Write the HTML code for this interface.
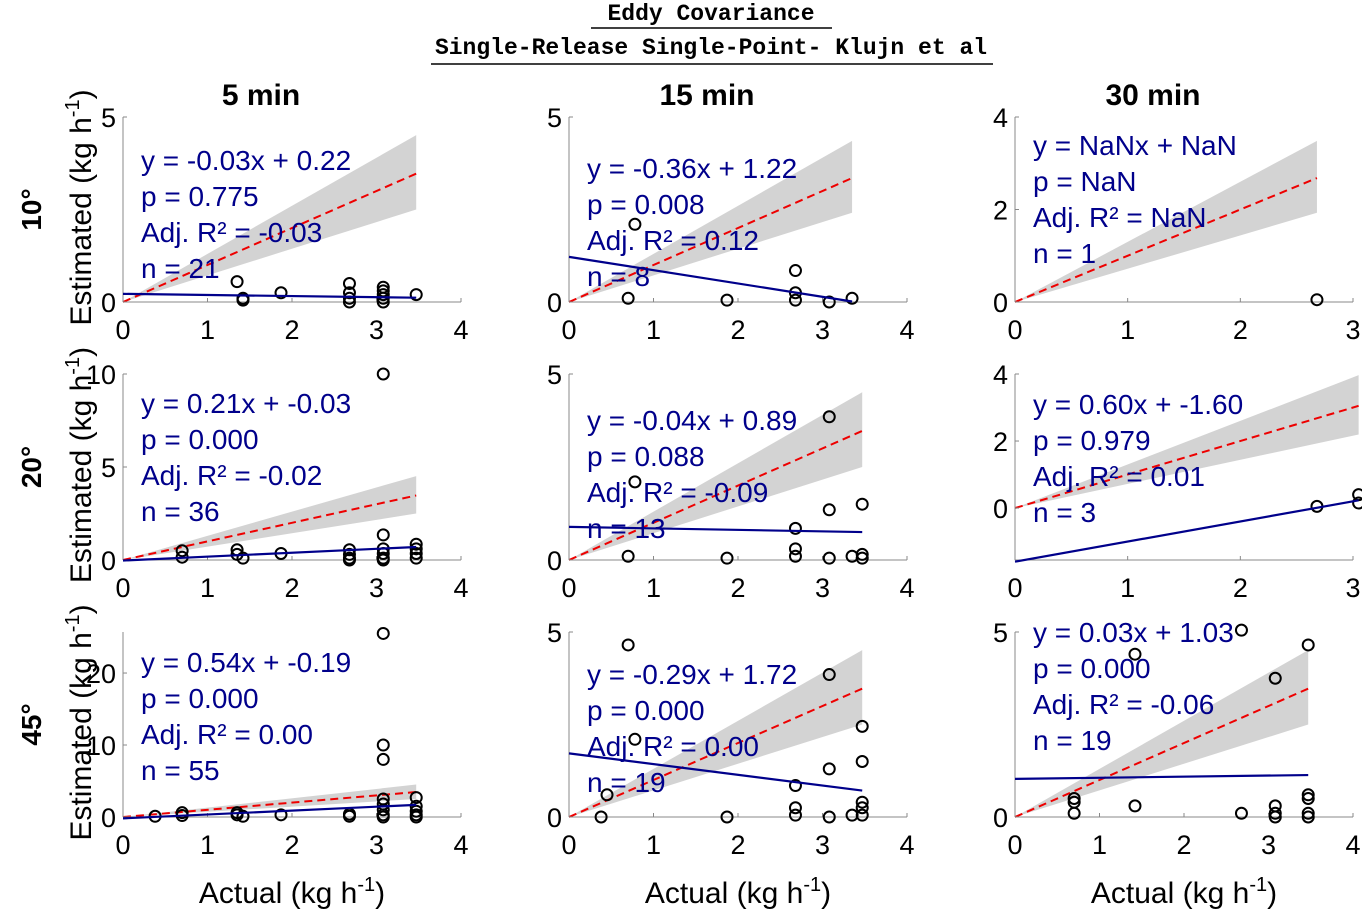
<!DOCTYPE html>
<html><head><meta charset="utf-8">
<style>
html,body{margin:0;padding:0;background:#fff;}
svg{display:block;font-family:"Liberation Sans",Arial,sans-serif;}
</style></head>
<body>
<svg id="chart" width="1362" height="912" viewBox="0 0 1362 912" xmlns="http://www.w3.org/2000/svg">
<g font-family="Liberation Mono,monospace" font-weight="bold" font-size="23" text-anchor="middle">
<text x="711" y="20">Eddy Covariance</text>
<line x1="591" y1="28" x2="832" y2="28" stroke="#000" stroke-width="1.5"/>
<text x="711" y="54">Single-Release Single-Point- Klujn et al</text>
<line x1="431" y1="64" x2="993" y2="64" stroke="#000" stroke-width="1.5"/>
</g>
</svg>
<script>
const colTitles=["5 min","15 min","30 min"];
const rowTitles=["10°","20°","45°"];
const xlims=[[4,4,3],[4,4,3],[4,4,4]];
const ylims=[[[0,5],[0,5],[0,4]],[[0,10],[0,5],[-1.55,4]],[[0,25.7],[0,5],[0,5]]];
const yticks=[[[0,5],[0,5],[0,2,4]],[[0,5,10],[0,5],[0,2,4]],[[0,10,20],[0,5],[0,5]]];
const slopes=[[-0.03,-0.36,null],[0.21,-0.04,0.60],[0.54,-0.29,0.03]];
const intercepts=[[0.22,1.22,null],[-0.03,0.89,-1.60],[-0.19,1.72,1.03]];
const lineEnd=[[3.47,3.35,0],[3.47,3.47,3.05],[3.47,3.47,3.47]];
const bandEnd=[[3.47,3.35,2.68],[3.47,3.47,3.05],[3.47,3.47,3.47]];
const eqTexts=[[["y = -0.03x + 0.22","p = 0.775","Adj. R² = -0.03","n = 21"],["y = -0.36x + 1.22","p = 0.008","Adj. R² = 0.12","n = 8"],["y = NaNx + NaN","p = NaN","Adj. R² = NaN","n = 1"]],
[["y = 0.21x + -0.03","p = 0.000","Adj. R² = -0.02","n = 36"],["y = -0.04x + 0.89","p = 0.088","Adj. R² = -0.09","n = 13"],["y = 0.60x + -1.60","p = 0.979","Adj. R² = 0.01","n = 3"]],
[["y = 0.54x + -0.19","p = 0.000","Adj. R² = 0.00","n = 55"],["y = -0.29x + 1.72","p = 0.000","Adj. R² = 0.00","n = 19"],["y = 0.03x + 1.03","p = 0.000","Adj. R² = -0.06","n = 19"]]];
const eqTop=[[160,168,145],[403,420,404],[662,674,632]];
const ptsX=[[[1.35,1.42,1.42,1.87,2.68,2.68,2.68,2.68,3.08,3.08,3.08,3.08,3.08,3.47],[0.7,0.78,1.87,2.68,2.68,2.68,3.08,3.35],[2.68]],
[[0.7,0.7,1.35,1.35,1.42,1.87,2.68,2.68,2.68,2.68,3.08,3.08,3.08,3.08,3.08,3.08,3.47,3.47,3.47,3.47],[0.7,0.78,1.87,2.68,2.68,2.68,3.08,3.08,3.08,3.35,3.47,3.47,3.47],[2.68,3.05,3.05]],
[[0.38,0.7,0.7,1.35,1.35,1.42,1.87,2.68,2.68,3.08,3.08,3.08,3.08,3.08,3.08,3.08,3.08,3.47,3.47,3.47,3.47,3.47],[0.38,0.45,0.7,0.78,1.87,2.68,2.68,2.68,3.08,3.08,3.08,3.35,3.47,3.47,3.47,3.47,3.47],[0.7,0.7,0.7,1.42,1.42,2.68,2.68,3.08,3.08,3.08,3.08,3.47,3.47,3.47,3.47,3.47]]];
const ptsY=[[[0.55,0.05,0.1,0.25,0.5,0.25,0.1,0,0.4,0.3,0.2,0.1,0,0.2],[0.1,2.1,0.05,0.85,0.25,0.05,0,0.1],[0.05]],
[[0.5,0.15,0.55,0.3,0.1,0.35,0.55,0.3,0.1,0,10,1.35,0.6,0.35,0.1,0,0.85,0.6,0.35,0.1],[0.1,2.1,0.05,0.85,0.3,0.1,3.85,1.35,0.05,0.1,1.5,0.15,0.05],[0.05,0.4,0.15]],
[[0.1,0.6,0.2,0.6,0.3,0.1,0.3,0.4,0.1,25.5,10,8,2.5,1.8,1,0.3,0,2.7,1.5,0.8,0.3,0],[0,0.6,4.65,2.1,0,0.85,0.25,0.05,3.85,1.3,0,0.05,2.45,1.5,0.4,0.25,0.05],[0.5,0.4,0.1,4.4,0.3,5.05,0.1,3.75,0.3,0.1,0,4.65,0.6,0.5,0.1,0]]];

const NS="http://www.w3.org/2000/svg";
const svg=document.getElementById('chart');
function mk(tag,attrs,parent,txt){const e=document.createElementNS(NS,tag);for(const k in attrs)e.setAttribute(k,attrs[k]);if(txt!==undefined)e.textContent=txt;(parent||svg).appendChild(e);return e;}
const colX0=[123,569,1015], W=338;
const rowY0=[302,560,817], rowTop=[117,374,632];
for(let c=0;c<3;c++){
  const t=mk('text',{x:colX0[c]+138,y:105,'font-size':30,'font-weight':'bold','text-anchor':'middle'},svg,colTitles[c]);
  
  
  const xt=mk('text',{x:colX0[c]+169,y:903,'font-size':30,'text-anchor':'middle'},svg,'');
  
  
  xt.innerHTML='Actual (kg h<tspan dy="-12" font-size="20">-1</tspan><tspan dy="12">)</tspan>';
}
for(let r=0;r<3;r++){
  const cy=(rowY0[r]+rowTop[r])/2;
  const rt=mk('text',{x:0,y:0,'font-size':28,'font-weight':'bold','text-anchor':'middle',transform:`translate(41,${cy}) rotate(-90)`},svg,rowTitles[r]);
  
  
  const yt=mk('text',{x:0,y:0,'font-size':30,'text-anchor':'middle',transform:`translate(91,${cy-2}) rotate(-90)`},svg,'');
  
  
  yt.innerHTML='Estimated (kg h<tspan dy="-12" font-size="20">-1</tspan><tspan dy="12">)</tspan>';
}
for(let r=0;r<3;r++)for(let c=0;c<3;c++){
  const g=mk('g',{});
  
  
  const xmax=xlims[r][c], [ymin,ymax]=ylims[r][c];
  const X=v=>colX0[c]+v/xmax*W;
  const Y=v=>rowY0[r]-(v-ymin)/(ymax-ymin)*(rowY0[r]-rowTop[r]);
  const be=bandEnd[r][c];
  const band=mk('polygon',{points:`${X(0)},${Y(0)} ${X(be)},${Y(be*1.3)} ${X(be)},${Y(be*0.72)}`,fill:'#d3d3d3'},g);
  
  
  const one=mk('line',{x1:X(0),y1:Y(0),x2:X(be),y2:Y(be),stroke:'#e00',"stroke-width":2,"stroke-dasharray":"8,5"},g);
  
  
  mk('line',{x1:colX0[c],y1:rowTop[r],x2:colX0[c],y2:rowY0[r],stroke:'#888','stroke-width':1},g);
  mk('line',{x1:colX0[c],y1:rowY0[r],x2:colX0[c]+W,y2:rowY0[r],stroke:'#888','stroke-width':1},g);
  for(let v=0;v<=xmax;v++){
    mk('line',{x1:X(v),y1:rowY0[r],x2:X(v),y2:rowY0[r]-4,stroke:'#888'},g);
    const tl=mk('text',{x:X(v),y:rowY0[r]+37,'font-size':27,'text-anchor':'middle'},g,String(v));
    
    
  }
  yticks[r][c].forEach(v=>{
    mk('line',{x1:colX0[c],y1:Y(v),x2:colX0[c]+4,y2:Y(v),stroke:'#888'},g);
    const tl=mk('text',{x:colX0[c]-7,y:Y(v)+10,'font-size':27,'text-anchor':'end'},g,String(v));
    
    
  });
  ptsX[r][c].forEach((xv,i)=>{
    const p=mk('circle',{cx:X(xv),cy:Y(ptsY[r][c][i]),r:5.5,fill:'none',stroke:'#000','stroke-width':2},g);
    
    
  });
  if(slopes[r][c]!==null){
    const s=slopes[r][c],b=intercepts[r][c],le=lineEnd[r][c];
    const fl=mk('line',{x1:X(0),y1:Y(b),x2:X(le),y2:Y(s*le+b),stroke:'#00008b','stroke-width':2.2},g);
    
    
  }
  eqTexts[r][c].forEach((t,i)=>{
    const e=mk('text',{x:colX0[c]+18,y:eqTop[r][c]+10+i*36,'font-size':28,fill:'#00008b'},g,t);
    
    
  });
}
</script>
</body></html>
